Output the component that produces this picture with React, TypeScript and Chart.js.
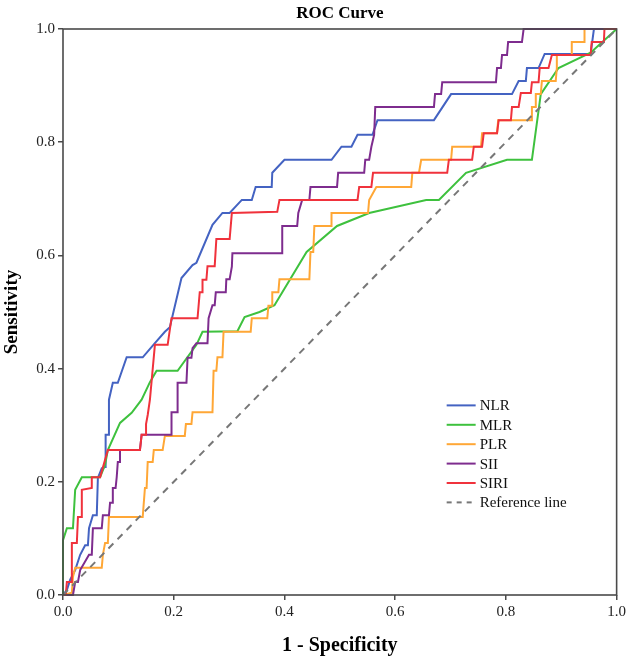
import React, { useEffect, useRef } from "react";
import { Chart, registerables } from "chart.js";

Chart.register(...registerables);

const seriesNames = ["NLR", "MLR", "PLR", "SII", "SIRI"];
const seriesColors = ["#4463C2", "#3EC13E", "#FFA736", "#7E2C8E", "#F0323C"];
const referenceLabel = "Reference line";
const tickValues = [0, 0.2, 0.4, 0.6, 0.8, 1.0];

const nlrX = [0, 0.007, 0.013, 0.022, 0.031, 0.04, 0.045, 0.047, 0.054, 0.061, 0.063, 0.07, 0.076, 0.077, 0.083, 0.083, 0.09, 0.099, 0.115, 0.144, 0.166, 0.184, 0.193, 0.214, 0.234, 0.241, 0.27, 0.288, 0.301, 0.323, 0.341, 0.348, 0.377, 0.378, 0.4, 0.485, 0.503, 0.521, 0.532, 0.559, 0.568, 0.67, 0.701, 0.811, 0.823, 0.836, 0.838, 0.859, 0.87, 0.953, 0.959, 1];
const nlrY = [0, 0.009, 0.027, 0.044, 0.071, 0.088, 0.088, 0.118, 0.141, 0.141, 0.207, 0.224, 0.226, 0.283, 0.283, 0.345, 0.375, 0.375, 0.42, 0.42, 0.445, 0.465, 0.473, 0.56, 0.583, 0.587, 0.654, 0.675, 0.675, 0.698, 0.698, 0.721, 0.721, 0.746, 0.769, 0.769, 0.792, 0.792, 0.813, 0.813, 0.839, 0.839, 0.885, 0.885, 0.908, 0.908, 0.931, 0.931, 0.956, 0.956, 1, 1];

const mlrX = [0, 0, 0.007, 0.018, 0.022, 0.034, 0.067, 0.076, 0.081, 0.103, 0.124, 0.142, 0.157, 0.169, 0.207, 0.241, 0.252, 0.315, 0.328, 0.355, 0.382, 0.44, 0.495, 0.553, 0.656, 0.679, 0.728, 0.802, 0.847, 0.863, 0.895, 0.953, 1];
const mlrY = [0, 0.097, 0.118, 0.118, 0.186, 0.208, 0.208, 0.23, 0.256, 0.304, 0.322, 0.345, 0.376, 0.396, 0.396, 0.442, 0.465, 0.466, 0.491, 0.5, 0.512, 0.606, 0.652, 0.675, 0.698, 0.698, 0.746, 0.769, 0.769, 0.885, 0.931, 0.958, 1];

const plrX = [0, 0.016, 0.018, 0.022, 0.07, 0.072, 0.076, 0.081, 0.083, 0.144, 0.148, 0.151, 0.153, 0.162, 0.164, 0.18, 0.184, 0.22, 0.222, 0.232, 0.234, 0.27, 0.272, 0.277, 0.279, 0.288, 0.29, 0.339, 0.341, 0.369, 0.371, 0.378, 0.378, 0.389, 0.391, 0.445, 0.447, 0.452, 0.454, 0.485, 0.485, 0.551, 0.553, 0.566, 0.629, 0.631, 0.643, 0.647, 0.701, 0.703, 0.755, 0.757, 0.784, 0.786, 0.847, 0.847, 0.854, 0.854, 0.863, 0.865, 0.89, 0.892, 0.892, 0.919, 0.919, 0.942, 0.942, 1];
const plrY = [0, 0.004, 0.032, 0.048, 0.048, 0.071, 0.092, 0.092, 0.138, 0.138, 0.189, 0.189, 0.235, 0.235, 0.256, 0.256, 0.281, 0.281, 0.302, 0.302, 0.323, 0.323, 0.396, 0.396, 0.42, 0.42, 0.465, 0.465, 0.489, 0.489, 0.511, 0.511, 0.535, 0.535, 0.558, 0.558, 0.606, 0.606, 0.652, 0.652, 0.675, 0.675, 0.698, 0.721, 0.721, 0.746, 0.746, 0.769, 0.769, 0.792, 0.792, 0.816, 0.816, 0.839, 0.839, 0.862, 0.862, 0.885, 0.885, 0.908, 0.908, 0.931, 0.954, 0.954, 0.977, 0.977, 1, 1];

const siiX = [0, 0.018, 0.022, 0.027, 0.031, 0.047, 0.052, 0.054, 0.07, 0.072, 0.083, 0.085, 0.09, 0.09, 0.095, 0.097, 0.099, 0.103, 0.103, 0.139, 0.142, 0.196, 0.196, 0.207, 0.207, 0.223, 0.225, 0.232, 0.234, 0.241, 0.261, 0.263, 0.27, 0.274, 0.276, 0.294, 0.295, 0.301, 0.305, 0.306, 0.396, 0.396, 0.423, 0.425, 0.432, 0.445, 0.447, 0.495, 0.497, 0.544, 0.546, 0.553, 0.557, 0.562, 0.564, 0.67, 0.672, 0.683, 0.685, 0.782, 0.784, 0.791, 0.793, 0.802, 0.804, 0.829, 0.832, 1];
const siiY = [0, 0, 0.023, 0.023, 0.044, 0.071, 0.071, 0.118, 0.118, 0.141, 0.141, 0.163, 0.163, 0.189, 0.189, 0.208, 0.235, 0.235, 0.256, 0.256, 0.283, 0.283, 0.323, 0.323, 0.375, 0.375, 0.419, 0.419, 0.436, 0.445, 0.445, 0.489, 0.512, 0.512, 0.535, 0.535, 0.558, 0.558, 0.58, 0.604, 0.604, 0.652, 0.652, 0.675, 0.698, 0.698, 0.721, 0.721, 0.746, 0.746, 0.769, 0.769, 0.792, 0.813, 0.862, 0.862, 0.885, 0.885, 0.906, 0.906, 0.931, 0.931, 0.954, 0.954, 0.977, 0.977, 1, 1];

const siriX = [0, 0.005, 0.007, 0.016, 0.016, 0.025, 0.027, 0.034, 0.034, 0.052, 0.052, 0.067, 0.081, 0.139, 0.142, 0.15, 0.15, 0.153, 0.157, 0.166, 0.189, 0.196, 0.243, 0.247, 0.252, 0.252, 0.259, 0.261, 0.274, 0.277, 0.301, 0.305, 0.387, 0.391, 0.532, 0.535, 0.557, 0.56, 0.694, 0.697, 0.739, 0.742, 0.757, 0.76, 0.784, 0.787, 0.809, 0.811, 0.823, 0.827, 0.845, 0.847, 0.859, 0.861, 0.877, 0.883, 0.953, 0.955, 0.977, 0.978, 1];
const siriY = [0, 0, 0.023, 0.023, 0.092, 0.092, 0.138, 0.138, 0.186, 0.189, 0.208, 0.208, 0.256, 0.256, 0.283, 0.283, 0.302, 0.318, 0.345, 0.442, 0.442, 0.489, 0.489, 0.535, 0.535, 0.557, 0.557, 0.581, 0.581, 0.629, 0.629, 0.675, 0.677, 0.698, 0.698, 0.721, 0.721, 0.746, 0.746, 0.769, 0.769, 0.792, 0.792, 0.816, 0.816, 0.839, 0.839, 0.862, 0.862, 0.887, 0.887, 0.906, 0.906, 0.931, 0.931, 0.954, 0.954, 0.977, 0.977, 1, 1];

const referenceX = [0, 1];
const referenceY = [0, 1];

const seriesX = [nlrX, mlrX, plrX, siiX, siriX];
const seriesY = [nlrY, mlrY, plrY, siiY, siriY];

const FONT = "'Liberation Serif', 'Times New Roman', serif";

const toPoints = (xs: number[], ys: number[]) => xs.map((x, i) => ({ x, y: ys[i] }));

const framePlugin = {
  id: "frame",
  afterDatasetsDraw(chart: any) {
    const { ctx, chartArea } = chart;
    ctx.save();
    ctx.strokeStyle = "#4a4a4a";
    ctx.lineWidth = 1.6;
    ctx.strokeRect(chartArea.left, chartArea.top, chartArea.right - chartArea.left, chartArea.bottom - chartArea.top);
    ctx.restore();
  },
};

const legendPlugin = {
  id: "insideLegend",
  afterDraw(chart: any) {
    const { ctx, chartArea } = chart;
    const xs = chart.scales.x;
    const ys = chart.scales.y;
    const x0 = xs.getPixelForValue(0.693);
    const y0 = ys.getPixelForValue(0.335);
    const rowH = 19.4;
    ctx.save();
    ctx.font = `15px ${FONT}`;
    ctx.textBaseline = "middle";
    ctx.textAlign = "left";
    const items = [...seriesNames, referenceLabel];
    items.forEach((name, i) => {
      const y = y0 + i * rowH;
      ctx.beginPath();
      if (i < seriesNames.length) {
        ctx.strokeStyle = seriesColors[i];
        ctx.setLineDash([]);
      } else {
        ctx.strokeStyle = "#777777";
        ctx.setLineDash([5, 5]);
      }
      ctx.lineWidth = 2;
      ctx.moveTo(x0, y);
      ctx.lineTo(x0 + 29, y);
      ctx.stroke();
      ctx.setLineDash([]);
      ctx.fillStyle = "#111111";
      ctx.fillText(name, x0 + 33, y + 1);
    });
    ctx.restore();
  },
};

export default function App() {
  const canvasRef = useRef<HTMLCanvasElement | null>(null);

  useEffect(() => {
    if (!canvasRef.current) return;
    const datasets: any[] = seriesNames.map((name, i) => ({
      label: name,
      data: toPoints(seriesX[i], seriesY[i]),
      borderColor: seriesColors[i],
      backgroundColor: seriesColors[i],
      borderWidth: 2,
      pointRadius: 0,
      tension: 0,
      fill: false,
      clip: 4,
      order: seriesNames.length - i,
    }));
    datasets.push({
      label: referenceLabel,
      data: toPoints(referenceX, referenceY),
      borderColor: "#777777",
      borderWidth: 2,
      borderDash: [7, 6],
      pointRadius: 0,
      fill: false,
      clip: 4,
      order: 0,
    });

    const tickCb = (v: any) => Number(v).toFixed(1);

    const chart = new Chart(canvasRef.current, {
      type: "line",
      data: { datasets },
      options: {
        animation: false,
        responsive: false,
        devicePixelRatio: 1,
        layout: { padding: { left: 0, right: 11, top: 0, bottom: 0 } },
        plugins: {
          legend: { display: false },
          tooltip: { enabled: false },
          title: {
            display: true,
            text: "ROC Curve",
            fullSize: false,
            color: "#000",
            font: { family: FONT, size: 17, weight: "bold" },
            padding: { top: 3, bottom: 5.6 },
          },
        },
        scales: {
          x: {
            type: "linear",
            min: 0,
            max: 1,
            afterFit: (s: any) => { s.height = 66; },
            afterBuildTicks: (s: any) => { s.ticks = tickValues.map((v) => ({ value: v })); },
            grid: { display: true, drawOnChartArea: false, drawTicks: true, tickLength: 5, color: "#4a4a4a", lineWidth: 1.5 },
            border: { display: false },
            ticks: { color: "#222", font: { family: FONT, size: 15 }, padding: 3, callback: tickCb, maxRotation: 0 },
            title: { display: true, text: "1 - Specificity", color: "#000", font: { family: FONT, size: 20, weight: "bold" }, padding: { top: 0, bottom: 3 } },
          },
          y: {
            type: "linear",
            min: 0,
            max: 1,
            afterFit: (s: any) => { s.width = 63; },
            afterBuildTicks: (s: any) => { s.ticks = tickValues.map((v) => ({ value: v })); },
            grid: { display: true, drawOnChartArea: false, drawTicks: true, tickLength: 5, color: "#4a4a4a", lineWidth: 1.5 },
            border: { display: false },
            ticks: { color: "#222", font: { family: FONT, size: 15 }, padding: 3, callback: tickCb },
            title: { display: true, text: "Sensitivity", color: "#000", font: { family: FONT, size: 19, weight: "bold" }, padding: { top: 1, bottom: 0 } },
          },
        },
      },
      plugins: [framePlugin, legendPlugin],
    });
    return () => chart.destroy();
  }, []);

  return (
    <div style={{ position: "absolute", left: 0, top: 0, width: 629, height: 661, background: "#fff" }}>
      <canvas ref={canvasRef} width={629} height={661} />
    </div>
  );
}
